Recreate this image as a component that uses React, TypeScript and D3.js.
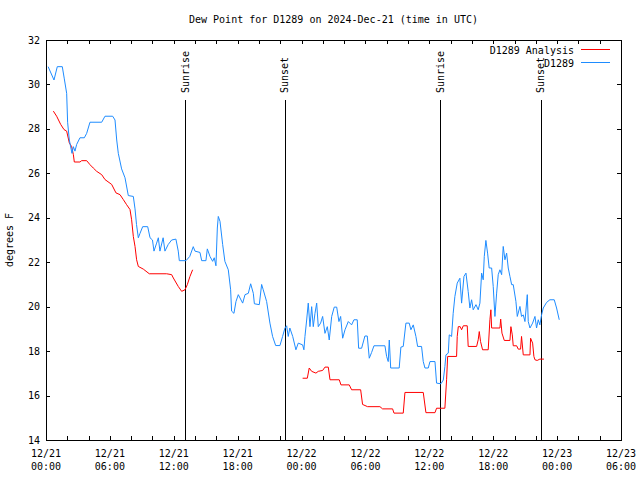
import React from "react";
import * as d3 from "d3";

const TITLE = "Dew Point for D1289 on 2024-Dec-21 (time in UTC)";
const Y_LABEL = "degrees F";

// hours since 12/21 00:00 UTC
const obsHours = [
  0.2, 0.75, 1.06, 1.53, 1.72, 1.94, 2.03, 2.19, 2.44, 2.57, 2.72, 2.88, 3.19, 3.6, 3.82, 4.13, 5.23, 5.54, 6.26, 6.48,
  6.64, 6.79, 7.1, 7.42, 7.73, 8.2, 8.36, 8.5, 8.67, 8.83, 9.08, 9.55, 9.77, 10.0, 10.14, 10.39, 10.55, 10.7, 11.0, 11.17,
  11.48, 11.8, 12.2, 12.42, 12.52, 13.15, 13.5, 13.83, 13.99, 14.46, 14.62, 15.02, 15.15, 15.4, 15.65, 15.8, 15.96, 16.09, 16.18, 16.34,
  16.59, 16.8, 17.12, 17.34, 17.43, 17.65, 17.84, 18.06, 18.47, 18.69, 19.0, 19.22, 19.47, 19.57, 20.03, 20.25, 20.4, 20.72, 21.03, 21.28,
  21.57, 21.97, 22.22, 22.44, 22.6, 22.75, 22.9, 23.17, 23.47, 23.69, 24.1, 24.22, 24.32, 24.48, 24.63, 24.79, 24.95, 25.1, 25.26, 25.42,
  25.57, 25.79, 25.98, 26.2, 26.42, 26.6, 26.83, 27.07, 27.3, 27.51, 27.67, 27.86, 28.08, 28.39, 28.7, 28.92, 29.23, 29.36, 29.64, 29.95,
  30.17, 30.36, 30.58, 30.8, 31.83, 31.99, 32.14, 32.24, 32.37, 33.17, 33.33, 33.55, 33.8, 34.11, 34.27, 34.49, 34.74, 34.9, 35.27, 35.43,
  35.59, 35.9, 36.06, 36.53, 36.68, 37.09, 37.31, 37.46, 37.56, 37.78, 37.87, 38.09, 38.24, 38.4, 38.62, 38.87, 39.03, 39.25, 39.44, 39.65,
  39.81, 39.97, 40.12, 40.38, 40.59, 40.75, 40.91, 41.06, 41.16, 41.31, 41.47, 41.62, 41.85, 42.0, 42.16, 42.32, 42.47, 42.63, 42.79, 42.94,
  43.1, 43.26, 43.41, 43.57, 43.73, 43.88, 44.13, 44.26, 44.51, 44.66, 44.82, 44.98, 45.2, 45.29, 45.45, 45.7, 45.92, 46.07, 46.23, 46.38,
  46.54, 46.7, 47.01, 47.32, 47.73, 47.95, 48.2,
];
const obsValues = [
  30.8, 30.2, 30.8, 30.8, 30.25, 29.6, 28.3, 27.5, 26.9, 27.2, 27.0, 27.3, 27.6, 27.6, 27.8, 28.3, 28.3, 28.57, 28.57, 28.4,
  27.5, 26.9, 26.2, 25.8, 25.0, 24.96, 24.4, 23.7, 23.1, 23.3, 23.6, 23.6, 23.1, 23.0, 22.5, 22.86, 23.1, 22.5, 23.1, 22.5,
  22.8, 23.0, 23.04, 22.5, 22.07, 22.07, 22.26, 22.7, 22.5, 22.44, 22.07, 22.07, 22.6, 22.26, 22.04, 22.2, 21.84, 23.54, 24.06, 23.84,
  22.8, 22.04, 21.66, 20.76, 19.8, 19.7, 20.23, 20.54, 20.16, 20.54, 20.6, 21.03, 20.6, 20.13, 20.09, 21.0, 20.76, 20.23, 19.26, 18.66,
  18.25, 18.25, 18.66, 19.04, 19.14, 18.66, 19.04, 18.66, 18.06, 18.36, 18.28, 18.06, 18.66, 19.4, 20.16, 19.1, 20.0, 19.1, 19.7, 20.16,
  19.1, 19.26, 19.56, 18.8, 19.1, 18.5, 19.56, 19.98, 19.98, 19.33, 19.56, 18.58, 18.96, 19.33, 19.18, 19.41, 19.41, 18.13, 18.13, 18.68,
  18.68, 17.68, 17.94, 18.24, 18.24, 17.76, 17.53, 18.5, 17.24, 17.24, 18.18, 18.21, 19.26, 19.26, 18.96, 19.18, 18.66, 18.21, 18.21, 17.53,
  17.24, 17.24, 17.53, 17.53, 16.56, 16.53, 16.7, 17.3, 17.83, 17.91, 18.73, 18.66, 19.7, 20.46, 21.06, 21.28, 20.16, 21.36, 21.51, 20.68,
  19.94, 20.31, 19.86, 20.09, 19.86, 20.16, 21.51, 21.21, 22.26, 22.98, 22.41, 21.74, 21.74, 20.91, 19.56, 20.61, 21.44, 21.66, 21.44, 22.71,
  22.11, 22.41, 21.74, 21.36, 20.99, 20.99, 20.24, 19.56, 20.01, 19.56, 19.63, 19.33, 20.54, 19.33, 19.04, 19.26, 19.56, 19.04, 19.41, 19.18,
  19.63, 19.94, 20.19, 20.31, 20.31, 19.94, 19.41,
];

// analysis series; null marks the gap in the data
const anaHours = [
  0.69, 1.0, 1.38, 1.69, 1.94, 2.19, 2.41, 2.57, 2.66, 3.19, 3.35, 3.82, 4.13, 4.44, 4.76, 5.23, 5.54, 6.17, 6.57, 6.95,
  7.26, 7.57, 7.89, 8.04, 8.2, 8.36, 8.51, 8.67, 9.14, 9.7, 11.33, 11.8, 11.96, 12.42, 12.74, 13.05, 13.27, 13.52, 13.77,
  18.0,
  24.1, 24.54, 24.72, 24.95, 25.35, 25.57, 25.98, 26.2, 26.51, 26.67, 27.54, 27.7, 28.48, 28.7, 29.55, 29.73, 30.2, 31.36, 31.61, 32.55,
  32.68, 33.55, 33.71, 35.43, 35.68, 36.53, 36.68, 37.46, 37.62, 37.72, 38.56, 38.62, 38.72, 38.9, 39.03, 39.19, 39.56, 39.65, 40.44, 40.59,
  40.69, 40.81, 41.0, 41.53, 41.69, 41.78, 41.85, 42.63, 42.7, 42.82, 43.04, 43.57, 43.66, 43.79, 43.88, 44.2, 44.35, 44.57, 44.66, 44.82,
  45.45, 45.51, 45.7, 45.82, 45.92, 46.13, 46.38, 46.76,
];
const anaValues: (number | null)[] = [
  28.8, 28.57, 28.2, 27.97, 27.9, 27.37, 27.2, 26.84, 26.51, 26.51, 26.57, 26.57, 26.39, 26.24, 26.09, 25.94, 25.72, 25.5, 25.12, 25.04,
  24.82, 24.59, 24.37, 23.91, 23.16, 22.71, 22.11, 21.81, 21.69, 21.48, 21.48, 21.44, 21.29, 20.91, 20.69, 20.76, 20.99, 21.36, 21.66,
  null,
  16.78, 16.78, 17.24, 17.09, 17.01, 17.09, 17.13, 17.28, 17.28, 16.71, 16.71, 16.48, 16.48, 16.26, 16.26, 15.6, 15.5, 15.5, 15.4, 15.4,
  15.21, 15.21, 16.14, 16.14, 15.23, 15.23, 15.43, 15.43, 16.71, 17.76, 17.76, 18.66, 19.1, 19.1, 18.96, 19.14, 19.14, 18.21, 18.21, 18.51,
  18.88, 18.43, 18.06, 18.06, 19.41, 19.86, 19.04, 19.04, 19.44, 18.81, 18.48, 18.48, 19.1, 18.73, 18.24, 18.24, 18.09, 18.09, 18.66, 17.83,
  17.83, 18.58, 18.36, 17.76, 17.61, 17.58, 17.64, 17.64,
];

const eventHours = [13.1, 22.4, 37.04, 46.45];
const eventLabels = ["Sunrise", "Sunset", "Sunrise", "Sunset"];

const xTickHours = [0, 6, 12, 18, 24, 30, 36, 42, 48, 54];
const xTickDates = ["12/21", "12/21", "12/21", "12/21", "12/22", "12/22", "12/22", "12/22", "12/23", "12/23"];
const xTickTimes = ["00:00", "06:00", "12:00", "18:00", "00:00", "06:00", "12:00", "18:00", "00:00", "06:00"];
const xMinorTickHours = d3.range(0, 55, 2);
const yTicks = [14, 16, 18, 20, 22, 24, 26, 28, 30, 32];

const seriesNames = ["D1289 Analysis", "D1289"];
const seriesColors = ["#ff0000", "#1e8cff"];

const W = 640;
const H = 480;
const L = 46;
const R = 621;
const T = 40;
const B = 440;
const FONT = "'DejaVu Sans Mono', 'Liberation Mono', monospace";

export default function App() {
  const x = d3.scaleLinear().domain([0, 54]).range([L, R]);
  const y = d3.scaleLinear().domain([14, 32]).range([B, T]);

  const obs = obsHours.map((h, i) => [h, obsValues[i]] as [number, number | null]);
  const ana = anaHours.map((h, i) => [h, anaValues[i]] as [number, number | null]);

  const line = d3
    .line<[number, number | null]>()
    .defined((d) => d[1] !== null)
    .x((d) => x(d[0]))
    .y((d) => y(d[1] as number));

  const tick = 4;
  const c = (v: number) => Math.round(v) + 0.5;

  return (
    <svg
      width={W}
      height={H}
      style={{ position: "absolute", left: 0, top: 0, background: "#fff" }}
      fontFamily={FONT}
      fontSize={10}
    >
      <rect x={0} y={0} width={W} height={H} fill="#fff" />
      <text x={(L + R) / 2} y={23} textAnchor="middle" fill="#000">
        {TITLE}
      </text>
      <text transform={`translate(13,${(T + B) / 2}) rotate(-90)`} textAnchor="middle" fill="#000">
        {Y_LABEL}
      </text>

      {/* y ticks */}
      <g shapeRendering="crispEdges" stroke="#000">
        {yTicks.map((v) => (
          <g key={v}>
            <line x1={L} x2={L + tick} y1={c(y(v))} y2={c(y(v))} />
            <line x1={R - tick} x2={R} y1={c(y(v))} y2={c(y(v))} />
          </g>
        ))}
        {xMinorTickHours.map((h) => (
          <g key={h}>
            <line x1={c(x(h))} x2={c(x(h))} y1={B} y2={B - tick} />
            <line x1={c(x(h))} x2={c(x(h))} y1={T} y2={T + tick} />
          </g>
        ))}
      </g>
      {yTicks.map((v) => (
        <text key={v} x={40} y={y(v)} dy="0.35em" textAnchor="end" fill="#000">
          {v}
        </text>
      ))}
      {xTickHours.map((h, i) => (
        <g key={h}>
          <text x={x(h)} y={457} textAnchor="middle" fill="#000">
            {xTickDates[i]}
          </text>
          <text x={x(h)} y={470} textAnchor="middle" fill="#000">
            {xTickTimes[i]}
          </text>
        </g>
      ))}

      {/* sunrise / sunset */}
      {eventHours.map((h, i) => (
        <g key={i}>
          <line
            x1={c(x(h))}
            x2={c(x(h))}
            y1={100}
            y2={B}
            stroke="#000"
            shapeRendering="crispEdges"
          />
          <text
            transform={`translate(${x(h)},93) rotate(-90)`}
            dy="0.35em"
            textAnchor="start"
            fill="#000"
          >
            {eventLabels[i]}
          </text>
        </g>
      ))}

      {/* data */}
      <path d={line(ana) || ""} fill="none" stroke={seriesColors[0]} strokeWidth={1} />
      <path d={line(obs) || ""} fill="none" stroke={seriesColors[1]} strokeWidth={1} />

      {/* legend */}
      {seriesNames.map((n, i) => (
        <g key={n}>
          <text x={574} y={50 + i * 13} dy="0.35em" textAnchor="end" fill="#000">
            {n}
          </text>
          <line
            x1={581}
            x2={610}
            y1={49.5 + i * 13}
            y2={49.5 + i * 13}
            stroke={seriesColors[i]}
            shapeRendering="crispEdges"
          />
        </g>
      ))}

      {/* frame */}
      <rect
        x={L + 0.5}
        y={T + 0.5}
        width={R - L}
        height={B - T}
        fill="none"
        stroke="#000"
        shapeRendering="crispEdges"
      />
    </svg>
  );
}
